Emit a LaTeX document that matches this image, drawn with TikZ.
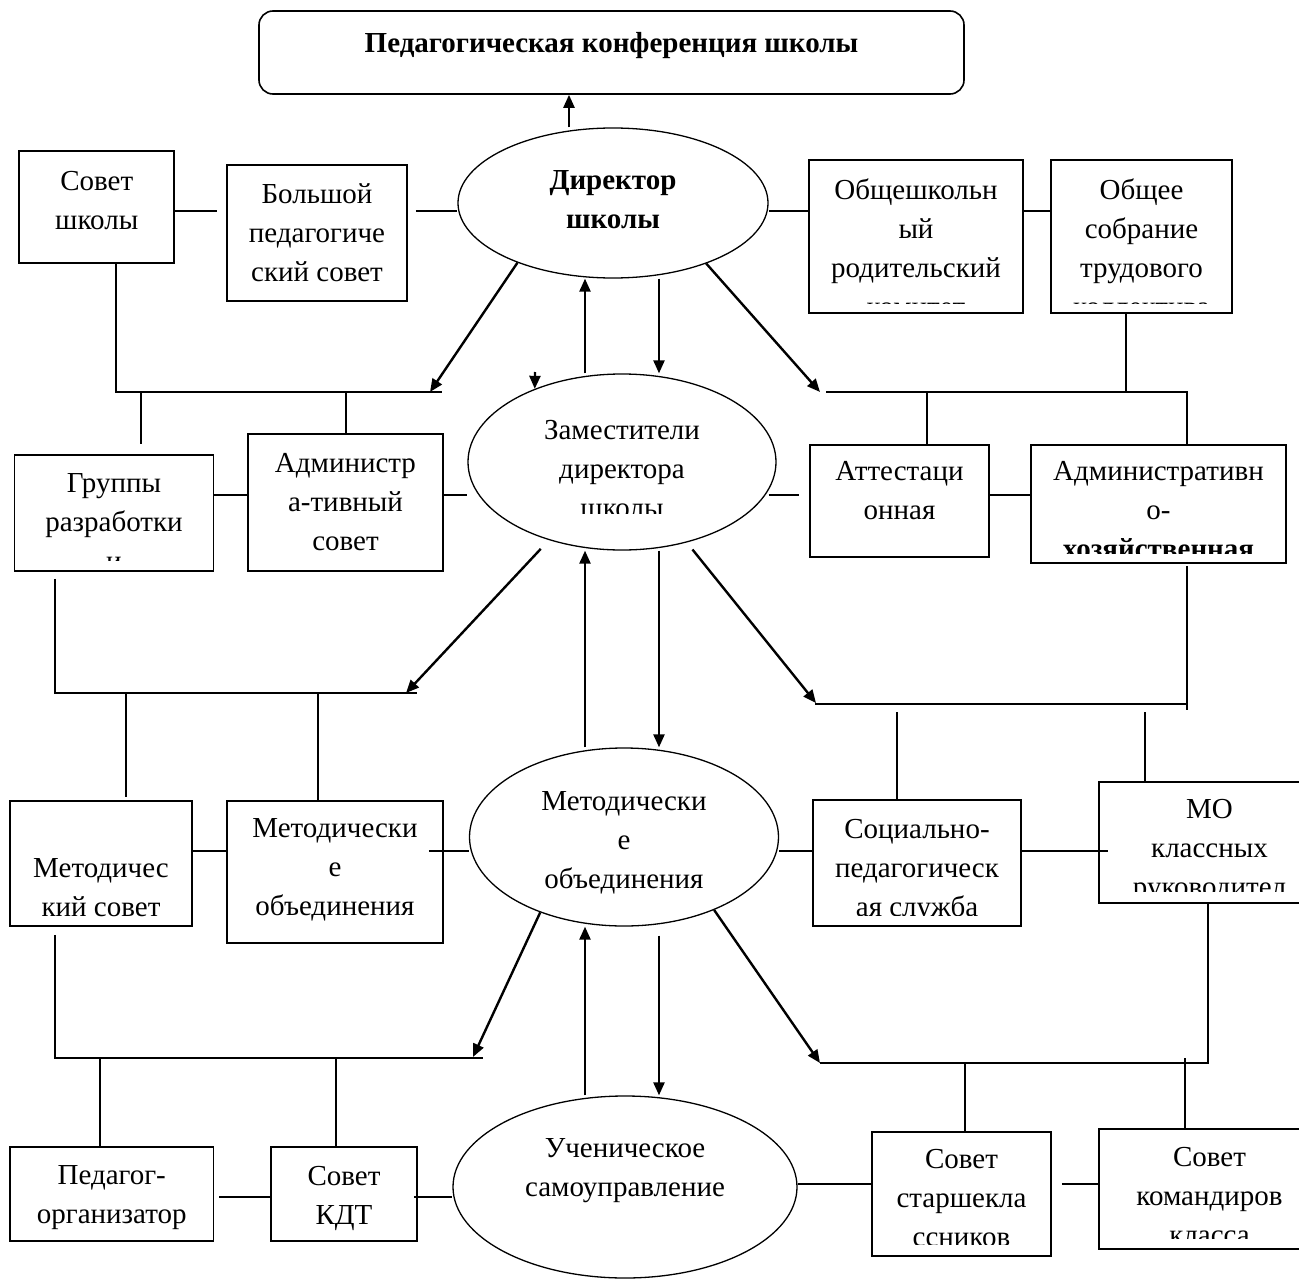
\documentclass[tikz,border=0pt]{standalone}
\usepackage{fontspec}
\setmainfont{Liberation Serif}
\usetikzlibrary{arrows.meta,shapes.geometric}
\newcommand{\fs}{\fontsize{29}{39}\selectfont}
\newcommand{\boxtxt}[3]{\clip (path picture bounding box.north west) rectangle ([yshift=-#2]path picture bounding box.north east);
\node[lbl,anchor=north] at ([yshift=-#1]path picture bounding box.north) {#3};}
\tikzset{
box/.style={draw,line width=1.6pt,inner sep=0pt},
oval/.style={draw,ellipse,line width=1.3pt,inner sep=0pt},
lbl/.style={rectangle,draw=none,fill=none,minimum width=0pt,minimum height=0pt,inner sep=0pt,align=center,font=\fs,path picture={}},
lnk/.style={line width=1.6pt},
arr/.style={line width=2.4pt,->}
}
\begin{document}
\begin{tikzpicture}[x=1pt,y=-1pt,>={Triangle[length=13pt,width=11pt]}]
\useasboundingbox (0,0) rectangle (1299,1279);
\clip (0,0) rectangle (1299,1279);
\node[box,rounded corners=14pt,minimum width=705,minimum height=83,path picture={\boxtxt{21}{83}{\textbf{Педагогическая конференция школы}}}] (conf) at (611.5,52.5) {};
\node[box,minimum width=155,minimum height=112,path picture={\boxtxt{19}{112}{Совет\\школы}}] (sovet) at (96.75,207) {};
\node[box,minimum width=180,minimum height=136,path picture={\boxtxt{18}{136}{Большой\\педагогиче\\ский совет}}] (bolsh) at (317,233) {};
\node[oval,minimum width=310,minimum height=150,path picture={\boxtxt{42}{150}{\textbf{Директор}\\\textbf{школы}}}] (dir) at (613,203) {};
\node[box,minimum width=214,minimum height=153,path picture={\boxtxt{18}{143}{Общешкольн\\ый\\родительский\\комитет}}] (obsh) at (916,236.5) {};
\node[box,minimum width=181,minimum height=153,path picture={\boxtxt{18}{143}{Общее\\собрание\\трудового\\коллектива}}] (obshee) at (1141.5,236.5) {};
\node[box,minimum width=199,minimum height=116,path picture={\boxtxt{18}{105}{Группы\\разработки\\и}}] (grp) at (114,513) {};
\node[box,minimum width=195,minimum height=137,path picture={\boxtxt{19}{137}{Администр\\а-тивный\\совет}}] (adm) at (345.5,502.5) {};
\node[oval,minimum width=308,minimum height=176,path picture={\boxtxt{46}{139}{Заместители\\директора\\школы}}] (zam) at (622,462) {};
\node[box,minimum width=179,minimum height=112,path picture={\boxtxt{16}{112}{Аттестаци\\онная}}] (att) at (899.5,501) {};
\node[box,minimum width=255,minimum height=118,path picture={\boxtxt{16}{108}{Административн\\о-\\\textbf{хозяйственная}}}] (ahoz) at (1158.5,504) {};
\node[box,minimum width=182,minimum height=125,path picture={\boxtxt{57}{116}{Методичес\\кий совет}}] (metsov) at (101,863.5) {};
\node[box,minimum width=216,minimum height=142,path picture={\boxtxt{17}{142}{Методически\\е\\объединения}}] (metob) at (335,872) {};
\node[oval,minimum width=309,minimum height=178,path picture={\boxtxt{43}{178}{Методически\\е\\объединения}}] (met) at (624,837) {};
\node[box,minimum width=208,minimum height=126,path picture={\boxtxt{18}{115}{Социально-\\педагогическ\\ая служба}}] (soc) at (917,863) {};
\node[box,minimum width=221,minimum height=121,path picture={\boxtxt{16}{109}{МО\\классных\\руководител}}] (mo) at (1209.5,842.5) {};
\node[box,minimum width=203.5,minimum height=94,path picture={\boxtxt{18}{94}{Педагог-\\организатор}}] (ped) at (111.75,1194) {};
\node[box,minimum width=146,minimum height=94,path picture={\boxtxt{18}{94}{Совет\\КДТ}}] (kdt) at (344,1194) {};
\node[oval,minimum width=344,minimum height=182,path picture={\boxtxt{42}{182}{Ученическое\\самоуправление}}] (uch) at (625,1187) {};
\node[box,minimum width=179,minimum height=124,path picture={\boxtxt{16}{112}{Совет\\старшекла\\ссников}}] (star) at (961.5,1194) {};
\node[box,minimum width=221,minimum height=120,path picture={\boxtxt{17}{109}{Совет\\командиров\\класса}}] (kom) at (1209.5,1189) {};
\coordinate (r1) at (0,211);
\coordinate (r2) at (0,495);
\coordinate (r3) at (0,851);
\coordinate (r4) at (0,1197);
\coordinate (r5) at (0,1184);
\draw[lnk,shorten >=9pt] (sovet.east|-r1) -- (bolsh.west|-r1);
\draw[lnk,shorten <=8pt] (bolsh.east|-r1) -- (dir.west|-r1);
\draw[lnk] (dir.east|-r1) -- (obsh.west|-r1);
\draw[lnk] (obsh.east|-r1) -- (obshee.west|-r1);
\draw[lnk] (grp.east|-r2) -- (adm.west|-r2);
\draw[lnk] (adm.east|-r2) -- (zam.west|-r2);
\draw[lnk,shorten <=-8pt,shorten >=10pt] (zam.east|-r2) -- (att.west|-r2);
\draw[lnk] (att.east|-r2) -- (ahoz.west|-r2);
\draw[lnk] (metsov.east|-r3) -- (metob.west|-r3);
\draw[lnk,shorten <=-15pt] (metob.east|-r3) -- (met.west|-r3);
\draw[lnk] (met.east|-r3) -- (soc.west|-r3);
\draw[lnk,shorten >=-10pt] (soc.east|-r3) -- (mo.west|-r3);
\draw[lnk,shorten <=5pt] (ped.east|-r4) -- (kdt.west|-r4);
\draw[lnk,shorten <=-4pt] (kdt.east|-r4) -- (uch.west|-r4);
\draw[lnk] (uch.east|-r5) -- (star.west|-r5);
\draw[lnk,shorten <=10pt] (star.east|-r5) -- (kom.west|-r5);
\coordinate (a1) at (116,392);
\coordinate (a2) at (442,392);
\coordinate (a3) at (826,392);
\coordinate (a4) at (1187,392);
\coordinate (f1) at (1126,392);
\coordinate (d1) at (141,392);
\coordinate (d2) at (346,392);
\coordinate (d3) at (927,392);
\draw[lnk] (sovet.south-|a1) -- (a1) -- (a2);
\draw[lnk,shorten >=10pt] (d1) -- (grp.north-|d1);
\draw[lnk] (d2) -- (adm.north-|d2);
\draw[lnk] (obshee.south-|f1) -- (f1);
\draw[lnk] (a3) -- (a4) -- (ahoz.north-|a4);
\draw[lnk] (d3) -- (att.north-|d3);
\coordinate (b1) at (55,693);
\coordinate (b2) at (417,693);
\coordinate (b3) at (815,704);
\coordinate (b4) at (1187,704);
\coordinate (d5) at (126,693);
\coordinate (d6) at (318,693);
\coordinate (d7) at (897,704);
\coordinate (d8) at (1145,704);
\draw[lnk,shorten <=7pt] (grp.south-|b1) -- (b1) -- (b2);
\draw[lnk,shorten >=3pt] (d5) -- (metsov.north-|d5);
\draw[lnk] (d6) -- (metob.north-|d6);
\draw[lnk] (b3) -- (b4);
\draw[lnk,shorten <=2pt,shorten >=-6pt] (ahoz.south-|b4) -- (b4);
\draw[lnk,shorten <=8pt] (d7) -- (soc.north-|d7);
\draw[lnk,shorten <=8pt] (d8) -- (mo.north-|d8);
\coordinate (c1) at (55,1058);
\coordinate (c2) at (483,1058);
\coordinate (c3) at (820,1063);
\coordinate (c4) at (1208,1063);
\coordinate (d9) at (100,1058);
\coordinate (d10) at (336,1058);
\coordinate (d11) at (965,1063);
\coordinate (d12) at (1185,1063);
\draw[lnk,shorten <=8pt] (metsov.south-|c1) -- (c1) -- (c2);
\draw[lnk] (d9) -- (ped.north-|d9);
\draw[lnk] (d10) -- (kdt.north-|d10);
\draw[lnk] (mo.south-|c4) -- (c4) -- (c3);
\draw[lnk] (d11) -- (star.north-|d11);
\draw[lnk,shorten <=-5pt] (d12) -- (kom.north-|d12);
\coordinate (t1) at (430,392);
\coordinate (t2) at (820,392);
\coordinate (t3) at (406,693);
\coordinate (t4) at (816,703);
\coordinate (t5) at (473,1057);
\coordinate (t6) at (820,1063);
\draw[arr] (dir.212) -- (t1);
\draw[arr] (dir.327) -- (t2);
\draw[arr,shorten <=12pt] (zam) -- (t3);
\draw[arr,shorten <=9pt] (zam) -- (t4);
\draw[arr] (met.222) -- (t5);
\draw[arr] (met.321) -- (t6);
\coordinate (up0) at ([xshift=-44pt]dir.north);
\draw[arr] (up0) -- (up0|-conf.south);
\coordinate (stub) at (535,372);
\draw[arr] (stub) -- (zam.140);
\draw[arr] ([xshift=-37pt]zam.north) -- ([xshift=-28pt]dir.south);
\draw[arr] ([xshift=46pt]dir.south) -- ([xshift=37pt]zam.north);
\draw[arr] ([xshift=-39pt]met.north) -- ([xshift=-37pt]zam.south);
\draw[arr] ([xshift=37pt]zam.south) -- ([xshift=35pt]met.north);
\draw[arr] ([xshift=-40pt]uch.north) -- ([xshift=-39pt]met.south);
\draw[arr,shorten <=9pt] ([xshift=35pt]met.south) -- ([xshift=34pt]uch.north);
\end{tikzpicture}
\end{document}
